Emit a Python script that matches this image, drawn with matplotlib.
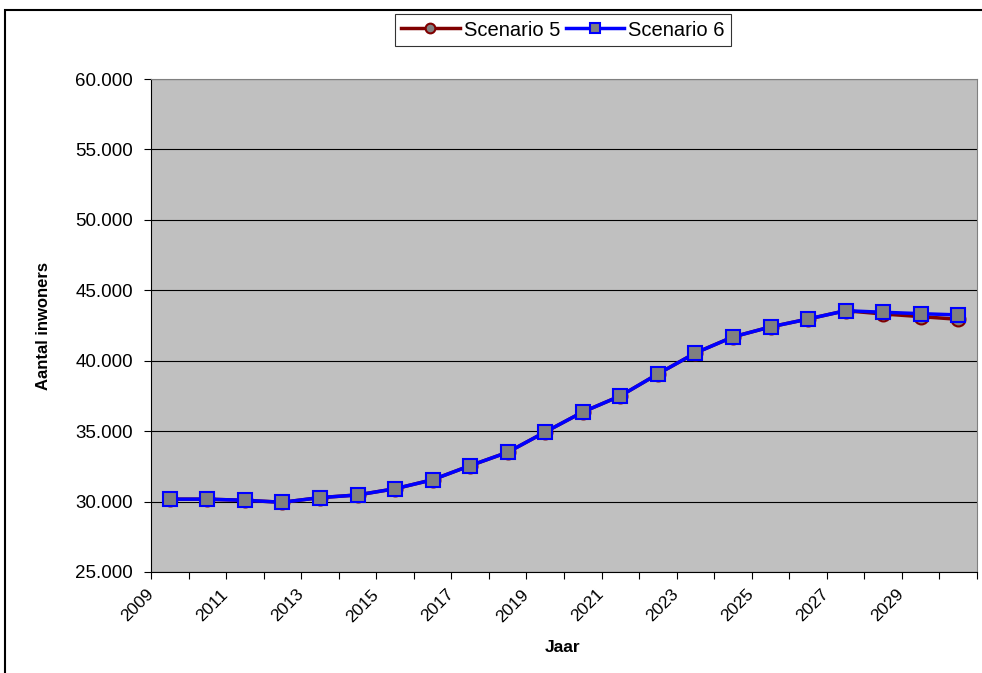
import matplotlib.pyplot as plt
from matplotlib.patches import Rectangle
from matplotlib.ticker import FuncFormatter, NullFormatter
from matplotlib.transforms import ScaledTranslation

plt.rcParams['font.family'] = ['Liberation Sans', 'DejaVu Sans']

# data
jaren = list(range(2009, 2031))
scenario_5 = [30170, 30170, 30090, 29950, 30280, 30470, 30910, 31550, 32550, 33500,
              34940, 36360, 37500, 39060, 40550, 41690, 42400, 42960, 43550, 43320,
              43130, 42940]
scenario_6 = [30170, 30170, 30090, 29950, 30280, 30470, 30910, 31550, 32550, 33500,
              34940, 36360, 37500, 39060, 40550, 41690, 42400, 42960, 43550, 43440,
              43340, 43250]

fig = plt.figure(figsize=(9.82, 6.73), dpi=100)
ax = fig.add_axes([151/982, 1 - 572/673, 826/982, 493/673])
ax.set_facecolor('#C0C0C0')

x = list(range(len(jaren)))
ax.plot(x, scenario_5, color='#800000', lw=2.5, marker='o', ms=10,
        mfc='#808080', mec='#800000', mew=1.5, label='Scenario 5', zorder=3)
ax.plot(x, scenario_6, color='#0000FF', lw=2.5, marker='s', ms=10,
        mfc='#808080', mec='#0000FF', mew=1.5, label='Scenario 6', zorder=4)

ax.set_ylim(25000, 60000)
ax.set_yticks(range(25000, 60001, 5000))
ax.yaxis.set_major_formatter(FuncFormatter(lambda v, p: f'{int(v):,}'.replace(',', '.')))
ax.yaxis.grid(True, color='black', lw=0.8)
ax.set_axisbelow(True)

# category axis: tick marks on the boundaries, labels for every other year
ax.set_xlim(-0.5, len(jaren) - 0.5)
ax.set_xticks([i - 0.5 for i in range(len(jaren) + 1)])
ax.xaxis.set_major_formatter(NullFormatter())
ax.tick_params(axis='x', length=5, direction='out', color='black')
ax.tick_params(axis='y', length=5, labelsize=13.5, pad=8)

lbl_tr = ax.get_xaxis_transform() + ScaledTranslation(-0.19, -0.20, fig.dpi_scale_trans)
for i, j in zip(x[::2], jaren[::2]):
    ax.text(i, 0, str(j), transform=lbl_tr, rotation=45, ha='right', va='center',
            rotation_mode='anchor', fontsize=12.5)

for s in ['top', 'right']:
    ax.spines[s].set_color('#808080')
ax.spines['left'].set_color('black')
ax.spines['bottom'].set_color('black')

fig.text(563/982, 1 - 648/673, 'Jaar', fontweight='bold', fontsize=12.5,
         ha='center', va='center')
fig.text(44/982, 1 - 326/673, 'Aantal inwoners', fontweight='bold', fontsize=12,
         ha='center', va='center', rotation=90)

leg = ax.legend(loc='center', bbox_to_anchor=(563/982, 1 - 30/673), bbox_transform=fig.transFigure,
                ncol=2, frameon=True, fancybox=False, edgecolor='black', fontsize=14.5,
                handlelength=2.9, columnspacing=0.3, handletextpad=0.2, borderpad=0.3,
                markerscale=0.7)
leg.get_frame().set_linewidth(0.8)

# outer chart border (right and bottom edges fall outside the picture)
fig.patches.append(Rectangle((5/982, -0.05), 1.1, 1 - 10/673 + 0.05, transform=fig.transFigure,
                             fill=False, edgecolor='black', lw=1.5))

fig.savefig('out.png', dpi=100)
